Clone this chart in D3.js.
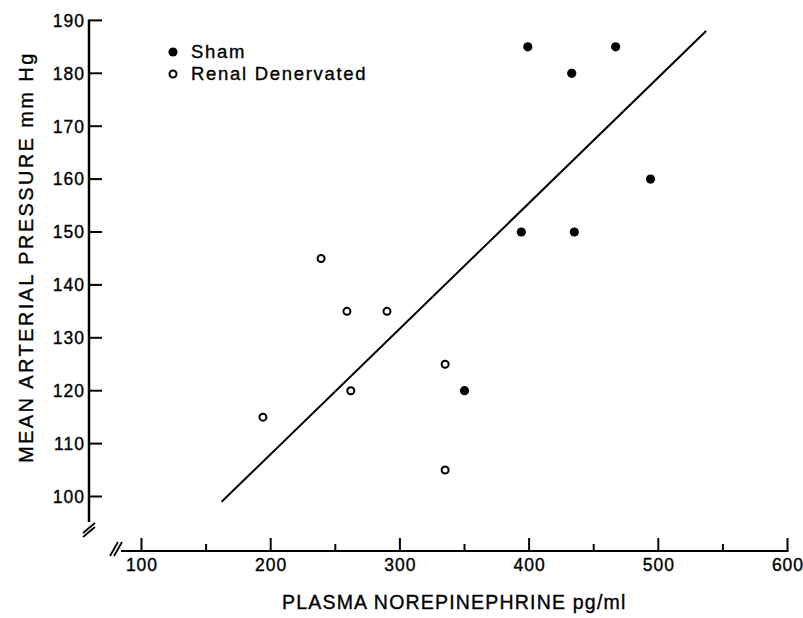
<!DOCTYPE html>
<html lang="en">
<head>
  <meta charset="UTF-8">
  <title>Plasma norepinephrine vs mean arterial pressure</title>
  <script src="https://d3js.org/d3.v7.min.js"></script>
  <style>
    body { margin: 0; background: #fff; }
    text { font-family: "Liberation Sans", Arial, sans-serif; fill: #000; stroke: #000; stroke-width: 0.35px; }
  </style>
</head>
<body>
  <script>
    "use strict";
    // Sham (filled dots)
    var shamX = [399, 467, 433, 494, 394, 435, 350];
    var shamY = [185, 185, 180, 160, 150, 150, 120];
    // Renal denervated (open circles)
    var renalX = [194, 239, 259, 262, 290, 335, 335];
    var renalY = [115, 145, 135, 120, 135, 125, 105];
    // Regression line end points
    var fitX = [162, 537];
    var fitY = [99, 188];
    var xTicks = [100, 200, 300, 400, 500, 600];
    var xMinor = [150, 250, 350, 450, 550];
    var yTicks = [100, 110, 120, 130, 140, 150, 160, 170, 180, 190];

    var svg = d3.select('body').append('svg')
      .attr('width', 803)
      .attr('height', 618);

    var x = d3.scaleLinear().domain([100, 600]).range([141.5, 787.5]);
    var y = d3.scaleLinear().domain([100, 190]).range([496.5, 20.4]);

    var xAxisY = 551, yAxisX = 89;

    // Y axis
    svg.append('line')
      .attr('x1', yAxisX).attr('x2', yAxisX)
      .attr('y1', y(190) - 1).attr('y2', 522)
      .attr('stroke', '#000').attr('stroke-width', 2.5);
    var yAxis = svg.append('g');
    yAxis.selectAll('line').data(yTicks).enter().append('line')
      .attr('x1', yAxisX).attr('x2', yAxisX + 13)
      .attr('y1', function (d) { return y(d); })
      .attr('y2', function (d) { return y(d); })
      .attr('stroke', '#000').attr('stroke-width', 2);
    yAxis.selectAll('text').data(yTicks).enter().append('text')
      .attr('x', 85)
      .attr('y', function (d) { return y(d); })
      .attr('dy', '0.36em')
      .attr('text-anchor', 'end')
      .attr('font-size', 17.5)
      .attr('letter-spacing', 1)
      .text(function (d) { return d; });

    // X axis
    svg.append('line')
      .attr('x1', 121).attr('x2', x(600) + 1)
      .attr('y1', xAxisY).attr('y2', xAxisY)
      .attr('stroke', '#000').attr('stroke-width', 2);
    var xAxis = svg.append('g');
    xAxis.selectAll('line.major').data(xTicks).enter().append('line')
      .attr('class', 'major')
      .attr('x1', function (d) { return x(d); })
      .attr('x2', function (d) { return x(d); })
      .attr('y1', xAxisY).attr('y2', xAxisY - 13)
      .attr('stroke', '#000').attr('stroke-width', 2);
    xAxis.selectAll('line.minor').data(xMinor).enter().append('line')
      .attr('class', 'minor')
      .attr('x1', function (d) { return x(d); })
      .attr('x2', function (d) { return x(d); })
      .attr('y1', xAxisY).attr('y2', xAxisY - 7)
      .attr('stroke', '#000').attr('stroke-width', 2);
    xAxis.selectAll('text').data(xTicks).enter().append('text')
      .attr('x', function (d) { return x(d) + 0.5; })
      .attr('y', 571)
      .attr('text-anchor', 'middle')
      .attr('font-size', 17.5)
      .attr('letter-spacing', 1)
      .text(function (d) { return d; });

    // Axis breaks
    var breaks = [
      [83, 537, 95, 527], [83, 533, 95, 523],
      [110, 556, 118, 542], [114, 556, 122, 542]
    ];
    svg.selectAll('line.brk').data(breaks).enter().append('line')
      .attr('class', 'brk')
      .attr('x1', function (d) { return d[0]; })
      .attr('y1', function (d) { return d[1]; })
      .attr('x2', function (d) { return d[2]; })
      .attr('y2', function (d) { return d[3]; })
      .attr('stroke', '#000').attr('stroke-width', 1.8);

    // Regression line
    var line = d3.line()
      .x(function (d) { return x(d[0]); })
      .y(function (d) { return y(d[1]); });
    svg.append('path')
      .datum(d3.zip(fitX, fitY))
      .attr('fill', 'none')
      .attr('stroke', '#000')
      .attr('stroke-width', 2)
      .attr('d', line);

    // Points
    svg.selectAll('circle.sham').data(d3.zip(shamX, shamY)).enter().append('circle')
      .attr('class', 'sham')
      .attr('cx', function (d) { return x(d[0]); })
      .attr('cy', function (d) { return y(d[1]); })
      .attr('r', 4.6)
      .attr('fill', '#000');
    svg.selectAll('circle.renal').data(d3.zip(renalX, renalY)).enter().append('circle')
      .attr('class', 'renal')
      .attr('cx', function (d) { return x(d[0]); })
      .attr('cy', function (d) { return y(d[1]); })
      .attr('r', 3.5)
      .attr('fill', '#fff')
      .attr('stroke', '#000')
      .attr('stroke-width', 2);

    // Legend
    svg.append('circle').attr('cx', 173).attr('cy', 52).attr('r', 4.6).attr('fill', '#000');
    svg.append('circle').attr('cx', 173).attr('cy', 74).attr('r', 3.5)
      .attr('fill', '#fff').attr('stroke', '#000').attr('stroke-width', 2);
    svg.append('text').attr('x', 191).attr('y', 58)
      .attr('font-size', 18.5).attr('letter-spacing', 1.7).text('Sham');
    svg.append('text').attr('x', 191).attr('y', 80)
      .attr('font-size', 18.5).attr('letter-spacing', 1.7).text('Renal Denervated');

    // Axis titles
    svg.append('text')
      .attr('x', 282).attr('y', 609)
      .attr('font-size', 19.5).attr('letter-spacing', 1.2)
      .text('PLASMA NOREPINEPHRINE pg/ml');
    svg.append('text')
      .attr('transform', 'translate(33,463) rotate(-90)')
      .attr('font-size', 20).attr('letter-spacing', 2.4)
      .text('MEAN ARTERIAL PRESSURE mm Hg');
  </script>
</body>
</html>
